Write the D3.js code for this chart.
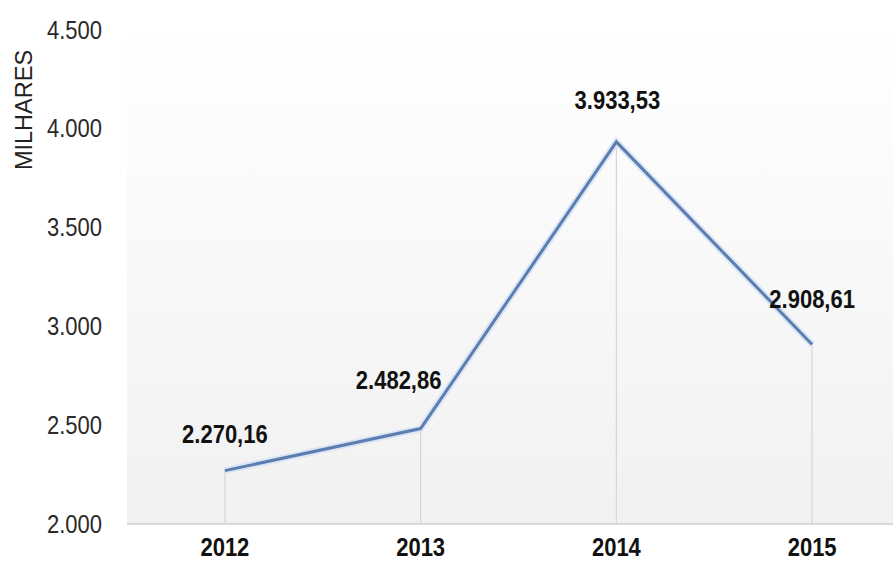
<!DOCTYPE html>
<html>
<head>
<meta charset="utf-8">
<script src="https://cdn.jsdelivr.net/npm/d3@7/dist/d3.min.js"></script>
<style>
  html, body { margin: 0; padding: 0; background: #ffffff; }
  svg { display: block; }
</style>
</head>
<body>
<svg id="chart" width="893" height="570"></svg>
<script>
// Annual values, in thousands
const years = ["2012", "2013", "2014", "2015"];
const values = [2270.16, 2482.86, 3933.53, 2908.61];
const valueLabels = ["2.270,16", "2.482,86", "3.933,53", "2.908,61"];
const yTicks = [2000, 2500, 3000, 3500, 4000, 4500];
const yTickLabels = ["2.000", "2.500", "3.000", "3.500", "4.000", "4.500"];
const axisTitle = "MILHARES";

// Label placement relative to each point (dx, dy)
const labelOffsets = [[0, -36], [-22, -48], [1, -42], [0, -45]];

const FONT = "'Liberation Sans', Arial, sans-serif";
const NARROW = 0.88; // horizontal squeeze for a narrow face

const svg = d3.select("#chart");
const W = 893, H = 570;
const plot = { left: 127, right: 910, top: 30, bottom: 524 };

const x = d3.scaleBand().domain(years).range([plot.left, plot.right]);
const y = d3.scaleLinear().domain([2000, 4500]).range([plot.bottom, plot.top]);
const cx = d => x(d) + x.bandwidth() / 2;

// Plot background: soft vertical gradient
const defs = svg.append("defs");
const grad = defs.append("linearGradient")
  .attr("id", "bg").attr("x1", 0).attr("y1", 0).attr("x2", 0).attr("y2", 1);
grad.append("stop").attr("offset", "0%").attr("stop-color", "#ffffff");
grad.append("stop").attr("offset", "100%").attr("stop-color", "#f1f1f1");

svg.append("rect")
  .attr("x", plot.left).attr("y", plot.top)
  .attr("width", plot.right - plot.left).attr("height", plot.bottom - plot.top)
  .attr("fill", "url(#bg)");

// Drop lines from each point to the baseline
svg.append("g").selectAll("line")
  .data(years)
  .join("line")
  .attr("x1", d => cx(d)).attr("x2", d => cx(d))
  .attr("y1", (d, i) => y(values[i])).attr("y2", plot.bottom)
  .attr("stroke", "#d6d6d6").attr("stroke-width", 1.2);

// Baseline
svg.append("line")
  .attr("x1", plot.left).attr("x2", W)
  .attr("y1", plot.bottom).attr("y2", plot.bottom)
  .attr("stroke", "#d9d9d9").attr("stroke-width", 2);

// Y axis tick labels
const yAxis = d3.axisLeft(y)
  .tickValues(yTicks)
  .tickFormat((d, i) => yTickLabels[i])
  .tickSize(0).tickPadding(0);
const gy = svg.append("g").attr("transform", `translate(${plot.left - 25},0)`).call(yAxis);
gy.select(".domain").remove();
gy.selectAll("text")
  .attr("x", 0)
  .attr("transform", `scale(${NARROW},1)`)
  .attr("font-family", FONT)
  .attr("font-size", 25).attr("fill", "#2a2a2a");

// X axis category labels
const xAxis = d3.axisBottom(x).tickSize(0).tickPadding(0);
const gx = svg.append("g").attr("transform", `translate(0,${plot.bottom + 13})`).call(xAxis);
gx.select(".domain").remove();
gx.selectAll("text")
  .attr("y", 0)
  .attr("dy", "0.75em")
  .attr("transform", `scale(${NARROW},1)`)
  .attr("font-family", FONT)
  .attr("font-weight", "bold").attr("font-size", 25).attr("fill", "#111");

// Axis title
svg.append("text")
  .attr("transform", "translate(32,110) rotate(-90)")
  .attr("text-anchor", "middle")
  .attr("font-family", FONT)
  .attr("font-size", 23.5).attr("fill", "#222")
  .text(axisTitle);

// Series line with a faint halo
const line = d3.line().x(d => cx(d[0])).y(d => y(d[1]));
const pts = years.map((yr, i) => [yr, values[i]]);
svg.append("path").datum(pts).attr("d", line)
  .attr("fill", "none").attr("stroke", "#dbe6f4").attr("stroke-width", 7)
  .attr("stroke-linejoin", "miter");
svg.append("path").datum(pts).attr("d", line)
  .attr("fill", "none").attr("stroke", "#5b7db0").attr("stroke-width", 3)
  .attr("stroke-linejoin", "miter");

// Value labels
svg.append("g").selectAll("g")
  .data(years)
  .join("g")
  .attr("transform", (d, i) =>
    `translate(${cx(d) + labelOffsets[i][0]},${y(values[i]) + labelOffsets[i][1]}) scale(${NARROW},1)`)
  .append("text")
  .attr("dy", "0.35em")
  .attr("text-anchor", "middle")
  .attr("font-family", FONT)
  .attr("font-weight", "bold").attr("font-size", 25).attr("fill", "#111")
  .text((d, i) => valueLabels[i]);
</script>
</body>
</html>
